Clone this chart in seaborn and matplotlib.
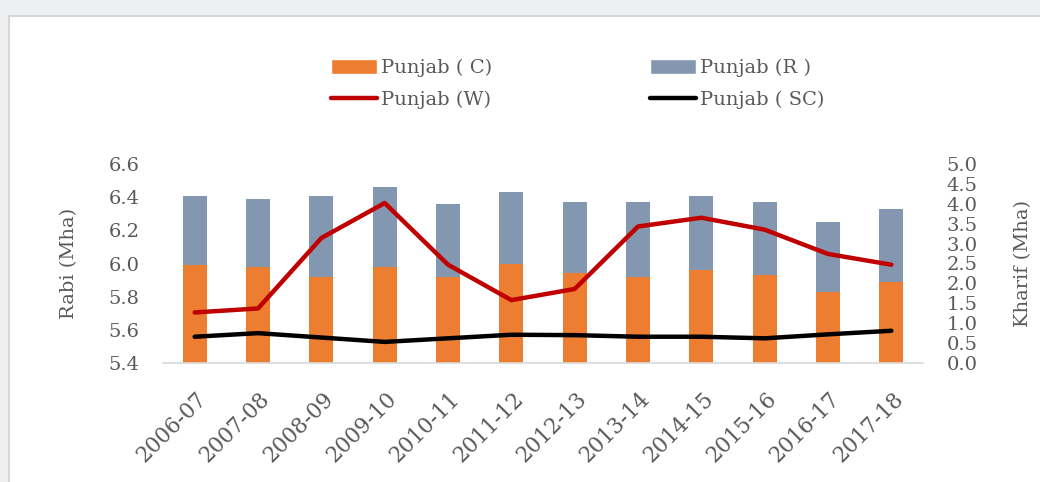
import numpy as np
import pandas as pd
import matplotlib
matplotlib.use("Agg")
import matplotlib.pyplot as plt
import matplotlib.transforms as mtransforms
from matplotlib.patches import Patch, Rectangle
from matplotlib.lines import Line2D
import seaborn as sns

sns.set_style('white')
plt.rcParams['font.family'] = ['DejaVu Serif']

# data
years = ['2006-07', '2007-08', '2008-09', '2009-10', '2010-11', '2011-12',
         '2012-13', '2013-14', '2014-15', '2015-16', '2016-17', '2017-18']
punjab_c = [5.99, 5.98, 5.92, 5.98, 5.92, 6.00, 5.94, 5.92, 5.96, 5.93, 5.83, 5.89]
punjab_r = [6.41, 6.39, 6.41, 6.46, 6.36, 6.43, 6.37, 6.37, 6.41, 6.37, 6.25, 6.33]
punjab_w = [1.27, 1.37, 3.14, 4.02, 2.47, 1.58, 1.86, 3.43, 3.65, 3.35, 2.74, 2.47]
punjab_sc = [0.66, 0.75, 0.64, 0.53, 0.62, 0.71, 0.70, 0.66, 0.66, 0.62, 0.72, 0.81]

df = pd.DataFrame({'Year': years, 'C': punjab_c, 'R': punjab_r,
                   'W': punjab_w, 'SC': punjab_sc})

ORANGE = '#ED7D31'
SLATE = '#8497B0'
RED = '#C00000'
TXT = '#595959'

fig = plt.figure(figsize=(10.4, 4.82), dpi=100)
fig.patch.set_facecolor('#EEEFF1')
# white chart area with thin border
fig.patches.append(Rectangle((9 / 1040, -0.05), 1.1, 1 - 16 / 482 + 0.05,
                             transform=fig.transFigure, facecolor='white',
                             edgecolor='#D6D6D6', linewidth=1.5, zorder=-5))

ax = fig.add_axes([163 / 1040, 1 - 363 / 482, 760 / 1040, 199 / 482])
ax.set_facecolor('none')

# bars: R behind, C in front
sns.barplot(data=df, x='Year', y='R', color=SLATE, width=0.38, ax=ax,
            saturation=1, errorbar=None, linewidth=0)
sns.barplot(data=df, x='Year', y='C', color=ORANGE, width=0.38, ax=ax,
            saturation=1, errorbar=None, linewidth=0)
ax.set_ylim(5.4, 6.6)
ax.set_yticks(np.arange(5.4, 6.61, 0.2))
ax.set_yticklabels([f'{v:.1f}' for v in np.arange(5.4, 6.61, 0.2)])
ax.set_ylabel('Rabi (Mha)', color=TXT, fontsize=14, labelpad=22)
ax.set_xlabel('')

ax2 = ax.twinx()
sns.pointplot(data=df, x='Year', y='W', color=RED, markers='', linewidth=3.2,
              ax=ax2, errorbar=None)
sns.pointplot(data=df, x='Year', y='SC', color='black', markers='', linewidth=3.2,
              ax=ax2, errorbar=None)
ax2.set_ylim(0, 5.0)
ax2.set_yticks(np.arange(0, 5.01, 0.5))
ax2.set_yticklabels([f'{v:.1f}' for v in np.arange(0, 5.01, 0.5)])
ax2.set_ylabel('Kharif (Mha)', color=TXT, fontsize=14, labelpad=26)
ax2.set_xlabel('')

for a in (ax, ax2):
    for s in a.spines.values():
        s.set_visible(False)
    a.tick_params(length=0, colors=TXT, labelsize=14, pad=17)
ax.spines['bottom'].set_visible(True)
ax.spines['bottom'].set_color('#D9D9D9')
ax.spines['bottom'].set_linewidth(1.2)

ax.tick_params(axis='x', pad=18, labelsize=15.5)
shift = mtransforms.ScaledTranslation(1 / 100, 0, fig.dpi_scale_trans)
for lbl in ax.get_xticklabels():
    lbl.set_rotation(45)
    lbl.set_ha('right')
    lbl.set_rotation_mode('anchor')
    lbl.set_transform(lbl.get_transform() + shift)

handles = [Patch(facecolor=ORANGE), Line2D([], [], color=RED, lw=3.2),
           Patch(facecolor=SLATE), Line2D([], [], color='black', lw=3.2)]
labels = ['Punjab ( C)', 'Punjab (W)', 'Punjab (R )', 'Punjab ( SC)']
leg = fig.legend(handles, labels, ncol=2, loc='center left',
                 bbox_to_anchor=(313 / 1040, 1 - 84 / 482), frameon=False,
                 fontsize=14, handlelength=2.4, handletextpad=0.2,
                 columnspacing=8.1, labelspacing=0.72, handleheight=0.8)
for t in leg.get_texts():
    t.set_color(TXT)

fig.savefig('out.png', dpi=100, facecolor=fig.get_facecolor())
